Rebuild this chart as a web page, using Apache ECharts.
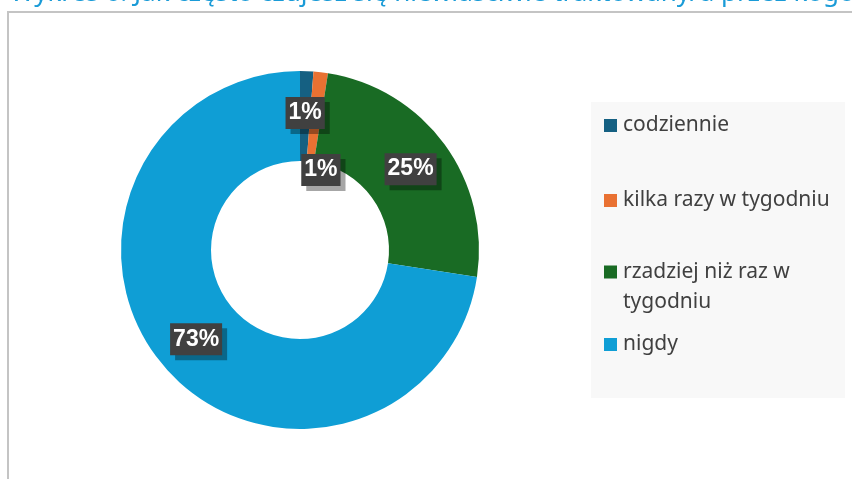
<!DOCTYPE html>
<html>
<head>
<meta charset="utf-8">
<script src="https://cdn.jsdelivr.net/npm/echarts@6/dist/echarts.min.js"></script>
<style>
  html, body { margin: 0; padding: 0; background: #fff; }
  #chart { width: 852px; height: 479px; }
</style>
</head>
<body>
<div id="chart"></div>
<script>
// answers and their share in percent
const categories = ['codziennie', 'kilka razy w tygodniu', 'rzadziej niż raz w tygodniu', 'nigdy']
const shares = [1.2, 1.3, 24.9, 72.6]
const colors = ['#156082', '#E97132', '#196B24', '#0F9ED5']
const titleText = 'Wykres 6. Jak często czujesz się niewłaściwie traktowany/a przez kogoś'

// legend rows, one legend per answer so the rows sit where excel put them
const legendTops = [115, 190, 227, 334]

let chart = echarts.init(document.getElementById('chart'))

let legends = categories.map(function (name, i) {
  let leg = {
    data: [name],
    left: 604,
    top: legendTops[i],
    padding: 0,
    orient: 'vertical',
    itemWidth: 13,
    itemHeight: 13,
    icon: 'rect',
    selectedMode: false,
    textStyle: {
      fontFamily: 'Noto Sans',
      fontSize: 21,
      color: '#404040',
      padding: [0, 0, 0, 1]
    }
  }
  if (i === 2) {
    // blank line on top keeps the square next to the first line
    leg.formatter = ' \nrzadziej niż raz w\ntygodniu'
    leg.textStyle.lineHeight = 30
  }
  return leg
})

let option = {
  animation: false,
  color: colors,
  graphic: [
    {
      type: 'text',
      left: 10,
      top: -19,
      style: {
        text: titleText,
        fontFamily: 'Noto Sans',
        fontSize: 26,
        fill: '#1a9bd7'
      }
    },
    {
      type: 'polyline',
      shape: { points: [[8, 479], [8, 12], [852, 12]] },
      style: { stroke: '#c4c4c4', lineWidth: 2, fill: null }
    },
    {
      type: 'rect',
      shape: { x: 591, y: 102, width: 254, height: 296 },
      style: { fill: '#f8f8f8' },
      z: -1
    }
  ],
  legend: legends,
  series: [
    {
      type: 'pie',
      center: [300, 250],
      radius: [89, 179],
      startAngle: 90,
      clockwise: true,
      avoidLabelOverlap: false,
      label: {
        show: true,
        position: 'inside',
        formatter: function (p) {
          return Math.round(p.value) + '%'
        },
        fontFamily: 'Liberation Sans',
        fontWeight: 'bold',
        fontSize: 23,
        color: '#fff',
        backgroundColor: '#404040',
        padding: [5, 3, 4, 3],
        shadowColor: 'rgba(0,0,0,0.35)',
        shadowOffsetX: 5,
        shadowOffsetY: 5,
        shadowBlur: 0
      },
      labelLayout: function (params) {
        // the second 1% label was dragged lower in the original
        if (params.dataIndex === 1) {
          return { dx: 5, dy: 56 }
        }
      },
      labelLine: { show: false },
      itemStyle: { borderWidth: 0 },
      emphasis: { disabled: true },
      data: categories.map(function (name, i) {
        return { name: name, value: shares[i] }
      })
    }
  ]
}

chart.setOption(option)
</script>
</body>
</html>
